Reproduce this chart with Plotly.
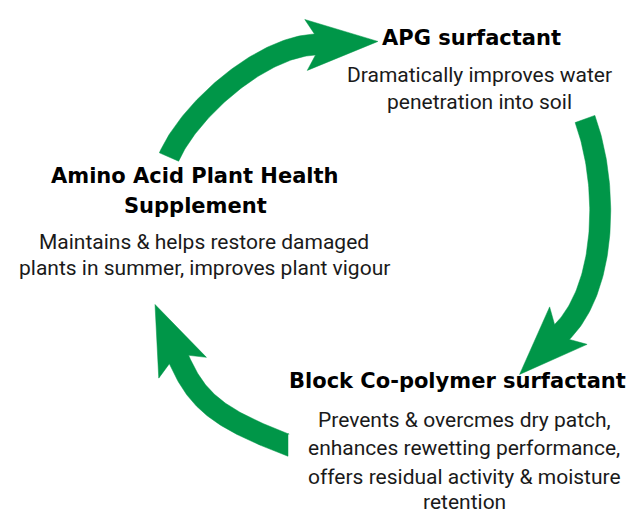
import numpy as np
import plotly.graph_objects as go

# ---- text content ----
titles = ["APG surfactant",
          "Amino Acid Plant Health",
          "Supplement",
          "Block Co-polymer surfactant"]
apg_lines = ["Dramatically improves water", "penetration into soil"]
amino_lines = ["Maintains & helps restore damaged", "plants in summer, improves plant vigour"]
block_lines = ["Prevents & overcmes dry patch,", "enhances rewetting performance,",
               "offers residual activity & moisture", "retention"]

# ---- arrow centre-line control points (cubic Bezier, pixel space) ----
arrow_top = [(161, 149), (181, 103), (252, 39.2), (307, 36.5)]
arrow_right = [(577, 111), (601, 177), (599, 279), (554, 324)]
arrow_left = [(280, 437), (210, 410.3), (189, 392.8), (171, 351.5)]

GREEN = "#009648"
W, H = 644, 513


def arrow_polygon(ctrl, body_w=21, head_len=62, head_hw=26, sweep=9, vertical_tail=False):
    P = np.array(ctrl, dtype=float)
    t = np.linspace(0, 1, 80)[:, None]
    C = ((1 - t) ** 3) * P[0] + 3 * ((1 - t) ** 2) * t * P[1] + 3 * (1 - t) * t ** 2 * P[2] + t ** 3 * P[3]
    D = 3 * ((1 - t) ** 2) * (P[1] - P[0]) + 6 * (1 - t) * t * (P[2] - P[1]) + 3 * t ** 2 * (P[3] - P[2])
    D = D / np.linalg.norm(D, axis=1)[:, None]
    N = np.stack([-D[:, 1], D[:, 0]], axis=1)
    L = C + N * body_w / 2
    R = C - N * body_w / 2
    if vertical_tail:
        x0 = C[0, 0]
        for S in (L, R):
            s = (x0 - S[0, 0]) / D[0, 0]
            S[0] = S[0] + s * D[0]
    E, d, n = C[-1], D[-1], N[-1]
    tip = E + d * head_len
    bl = E - d * sweep + n * head_hw
    br = E - d * sweep - n * head_hw
    pts = np.vstack([L, bl, tip, br, R[::-1], L[:1]])
    return pts[:, 0], pts[:, 1]


fig = go.Figure()
for ctrl, kw in [(arrow_top, dict(head_len=63, head_hw=25.5)),
                 (arrow_right, dict(head_len=60, head_hw=26.5)),
                 (arrow_left, dict(head_len=60, head_hw=26, vertical_tail=True))]:
    xs, ys = arrow_polygon(ctrl, **kw)
    fig.add_trace(go.Scatter(x=xs, y=ys, mode="lines", fill="toself", fillcolor=GREEN,
                             line=dict(color=GREEN, width=0.5), hoverinfo="skip", showlegend=False))

BOLD = dict(family="DejaVu Sans", size=21, color="#000000")
BODY = dict(family="Roboto, sans-serif", size=21, color="#1a1a1a")

ann = []
def add(text, x, y, font, bold=False):
    ann.append(dict(text=f"<b>{text}</b>" if bold else text, x=x, y=y, xref="x", yref="y",
                    showarrow=False, xanchor="center", yanchor="middle", font=font))

dy = -6.5
bx = -8  # compensation for bold width measurement
add(titles[0], 471 + bx, 36 + dy, BOLD, True)
for s, y in zip(apg_lines, [73.4, 100]):
    add(s, 471, y + dy, BODY)
add(titles[1], 195 + bx, 174 + dy, BOLD, True)
add(titles[2], 195 + bx, 204 + dy, BOLD, True)
for s, y in zip(amino_lines, [240, 266.7]):
    add(s, 196, y + dy, BODY)
add(titles[3], 457 + bx, 379 + dy, BOLD, True)
for s, y in zip(block_lines, [418.4, 446.7, 475, 500.5]):
    add(s, 456, y + dy, BODY)

fig.update_layout(width=W, height=H, margin=dict(l=0, r=0, t=0, b=0),
                  paper_bgcolor="white", plot_bgcolor="white",
                  xaxis=dict(range=[0, W], visible=False, fixedrange=True),
                  yaxis=dict(range=[H, 0], visible=False, fixedrange=True),
                  annotations=ann)
fig.write_html("out.html")
